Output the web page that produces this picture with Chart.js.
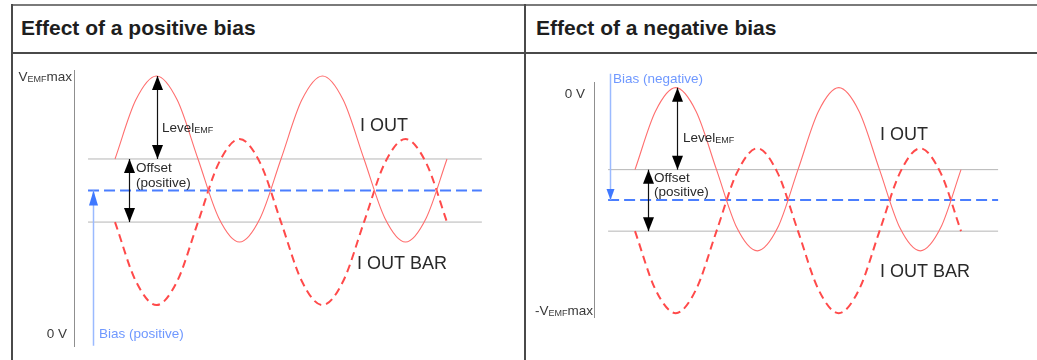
<!DOCTYPE html>
<html>
<head>
<meta charset="utf-8">
<script src="https://cdn.jsdelivr.net/npm/chart.js@4.4.1/dist/chart.umd.min.js"></script>
<style>
  html, body { margin: 0; padding: 0; background: #fff; }
  body { width: 1037px; height: 360px; position: relative; overflow: hidden; font-family: "Liberation Sans", Arial, sans-serif; }
  .rule { position: absolute; background: #4a4a4a; }
  .head { position: absolute; top: 16px; font-weight: bold; font-size: 21px; line-height: 24px; color: #1e1e1e; white-space: nowrap; }
  .cell { position: absolute; top: 55px; height: 305px; width: 511px; }
</style>
</head>
<body>
<div class="rule" style="left:11px;top:4px;width:1026px;height:2px;background:#7a7a7a"></div>
<div class="rule" style="left:11px;top:4px;width:2px;height:356px"></div>
<div class="rule" style="left:11px;top:52px;width:1026px;height:2px"></div>
<div class="rule" style="left:524px;top:4px;width:2px;height:356px"></div>
<div class="head" style="left:21px">Effect of a positive bias</div>
<div class="head" style="left:536px">Effect of a negative bias</div>
<div class="cell" style="left:13px"><canvas id="positive"></canvas></div>
<div class="cell" style="left:526px"><canvas id="negative"></canvas></div>

<script>
// time, in quarter periods of the EMF signal
const timeSteps = [0, 0.5, 1, 1.5, 2, 2.5, 3, 3.5, 4, 4.5, 5, 5.5, 6, 6.5, 7, 7.5, 8];

// signal levels, in Level_EMF units above the bias line
const iOutPositive = [0.38, 1.09, 1.38, 1.09, 0.38, -0.33, -0.62, -0.33, 0.38, 1.09, 1.38, 1.09, 0.38, -0.33, -0.62, -0.33, 0.38];
const iOutBarPositive = [-0.38, -1.09, -1.38, -1.09, -0.38, 0.33, 0.62, 0.33, -0.38, -1.09, -1.38, -1.09, -0.38, 0.33, 0.62, 0.33, -0.38];
const iOutNegative = [0.37, 1.08, 1.37, 1.08, 0.37, -0.34, -0.62, -0.34, 0.37, 1.08, 1.37, 1.08, 0.37, -0.34, -0.62, -0.34, 0.37];
const iOutBarNegative = [-0.38, -1.09, -1.38, -1.09, -0.38, 0.33, 0.63, 0.33, -0.38, -1.09, -1.38, -1.09, -0.38, 0.33, 0.63, 0.33, -0.38];

// offset lines (upper, lower), Level_EMF arrow (peak, offset) and bias arrow (start, bias line)
const offsetPositive = [0.38, -0.38];
const offsetNegative = [0.37, -0.38];
const levelPositive = [1.38, 0.38];
const levelNegative = [1.37, 0.37];
const biasPositive = [-1.87, 0];
const biasNegative = [1.54, 0];

// axis marks
const axisLabelsPositive = ['V_{EMF}max', '0 V'];
const axisValuesPositive = [1.38, -1.72];
const axisLabelsNegative = ['0 V', '-V_{EMF}max'];
const axisValuesNegative = [1.30, -1.34];

const traceLabels = ['I OUT', 'I OUT BAR'];
const biasLabels = ['Bias (positive)', 'Bias (negative)'];
const levelLabel = 'Level_{EMF}';
const offsetLabel = ['Offset', '(positive)'];

const FONT = '"Liberation Sans", Arial, sans-serif';
const ink = '#2a2a2a';
const blue = '#4a7eff';

function richText(ctx, text, px, py, align, size, color) {
  const parts = text.split(/_\{([^}]*)\}/);
  const mainFont = size + 'px ' + FONT;
  const subFont = Math.round(size * 0.66) + 'px ' + FONT;
  let w = 0;
  parts.forEach((p, i) => { ctx.font = i % 2 ? subFont : mainFont; w += ctx.measureText(p).width; });
  let cx = align === 'right' ? px - w : px;
  const base = py + size * 0.36;
  ctx.fillStyle = color;
  ctx.textAlign = 'left';
  ctx.textBaseline = 'alphabetic';
  parts.forEach((p, i) => {
    ctx.font = i % 2 ? subFont : mainFont;
    ctx.fillText(p, cx, i % 2 ? base + 1.5 : base);
    cx += ctx.measureText(p).width;
  });
}

function arrow(ctx, px, y1, y2, a) {
  const x = Math.round(px) + 0.5;
  ctx.strokeStyle = a.line;
  ctx.lineWidth = a.width;
  ctx.beginPath();
  ctx.moveTo(x, y1);
  ctx.lineTo(x, y2);
  ctx.stroke();
  const head = (tip, dir) => {
    ctx.fillStyle = a.head;
    ctx.beginPath();
    ctx.moveTo(x, tip);
    ctx.lineTo(x - a.headW / 2, tip - dir * a.headLen);
    ctx.lineTo(x + a.headW / 2, tip - dir * a.headLen);
    ctx.closePath();
    ctx.fill();
  };
  head(y2, Math.sign(y2 - y1));
  if (a.both) head(y1, Math.sign(y1 - y2));
}

// arrows and texts, placed through the chart scales
const diagramPlugin = {
  id: 'diagram',
  afterDatasetsDraw(chart, args, opts) {
    const { ctx, scales: { x, y } } = chart;
    ctx.save();
    opts.arrows.forEach(a => {
      arrow(ctx, x.getPixelForValue(a.at), y.getPixelForValue(a.range[0]), y.getPixelForValue(a.range[1]), a);
    });
    opts.labels.forEach(l => {
      richText(ctx, l.text, x.getPixelForValue(l.x), y.getPixelForValue(l.y), l.align || 'left', l.size, l.color);
    });
    ctx.restore();
  }
};

function makePanel(id, p) {
  const points = vals => timeSteps.map((t, i) => ({ x: t, y: vals[i] }));
  const flat = v => [{ x: p.lineFrom, y: v }, { x: p.lineTo, y: v }];
  const base = { pointRadius: 0, fill: false };

  const labels = [];
  p.axisLabels.forEach((text, i) => labels.push({ text, x: p.axisX[i], y: p.axisValues[i], align: 'right', size: 13.5, color: '#3a3a3a' }));
  labels.push({ text: p.biasLabel, x: p.biasLabelAt[0], y: p.biasLabelAt[1], size: 13.5, color: '#6f98ff' });
  labels.push({ text: levelLabel, x: p.levelLabelAt[0], y: p.levelLabelAt[1], size: 13.5, color: ink });
  labels.push({ text: offsetLabel[0], x: p.offsetLabelAt[0], y: p.offsetLabelAt[1], size: 13.5, color: ink });
  labels.push({ text: offsetLabel[1], x: p.offsetLabelAt[0], y: p.offsetLabelAt[2], size: 13.5, color: ink });
  labels.push({ text: traceLabels[0], x: p.iOutAt[0], y: p.iOutAt[1], size: 18, color: ink });
  labels.push({ text: traceLabels[1], x: p.iOutBarAt[0], y: p.iOutBarAt[1], size: 18, color: ink });

  const blackArrow = { line: '#111', head: '#000', width: 1.2, headLen: 14, headW: 11, both: true };

  new Chart(document.getElementById(id), {
    type: 'line',
    data: {
      datasets: [
        { ...base, data: points(p.iOut), borderColor: '#ff6e6e', borderWidth: 1.1, cubicInterpolationMode: 'monotone' },
        { ...base, data: points(p.iOutBar), borderColor: '#ff4a4a', borderWidth: 2, borderDash: [8, 5], cubicInterpolationMode: 'monotone' },
        { ...base, data: flat(0), borderColor: blue, borderWidth: 2, borderDash: [11, 5] },
        { ...base, data: flat(p.offset[0]), borderColor: '#b5b5b5', borderWidth: 1 },
        { ...base, data: flat(p.offset[1]), borderColor: '#b5b5b5', borderWidth: 1 }
      ]
    },
    options: {
      responsive: true,
      maintainAspectRatio: false,
      animation: false,
      devicePixelRatio: 1,
      layout: { padding: p.padding },
      plugins: {
        legend: { display: false },
        tooltip: { enabled: false },
        diagram: {
          arrows: [
            { ...blackArrow, at: p.levelAt, range: p.level },
            { ...blackArrow, at: p.offsetAt, range: p.offset },
            { line: '#9bbaff', head: '#3f78ff', width: 1.5, headLen: p.biasHead[0], headW: p.biasHead[1], both: false, at: p.biasAt, range: p.bias }
          ],
          labels
        }
      },
      scales: {
        x: { type: 'linear', display: false, min: p.x[0], max: p.x[1] },
        y: {
          type: 'linear', min: p.y[0], max: p.y[1],
          grid: { display: false },
          ticks: { display: false },
          border: { color: '#8f8f8f', width: 1 },
          afterFit: s => { s.width = 0; }
        }
      }
    },
    plugins: [diagramPlugin]
  });
}

makePanel('positive', {
  padding: { left: 61, top: 15, bottom: 14, right: 24 },
  x: [-0.988, 9.277], y: [-1.873, 1.452],
  lineFrom: -0.65, lineTo: 8.84,
  iOut: iOutPositive, iOutBar: iOutBarPositive,
  offset: offsetPositive, level: levelPositive, bias: biasPositive,
  levelAt: 1.0, offsetAt: 0.34, biasAt: -0.53, biasHead: [15, 9],
  axisLabels: axisLabelsPositive, axisValues: axisValuesPositive, axisX: [-1.036, -1.157],
  biasLabel: biasLabels[0], biasLabelAt: [-0.386, -1.72],
  levelLabelAt: [1.133, 0.765],
  offsetLabelAt: [0.506, 0.28, 0.106],
  iOutAt: [5.904, 0.80], iOutBarAt: [5.831, -0.873]
});

makePanel('negative', {
  padding: { left: 68, top: 27, bottom: 43, right: 27 },
  x: [-1.006, 9.202], y: [-1.427, 1.439],
  lineFrom: -0.66, lineTo: 8.91,
  iOut: iOutNegative, iOutBar: iOutBarNegative,
  offset: offsetNegative, level: levelNegative, bias: biasNegative,
  levelAt: 1.03, offsetAt: 0.32, biasAt: -0.61, biasHead: [11, 8],
  axisLabels: axisLabelsNegative, axisValues: axisValuesNegative, axisX: [-1.227, -1.031],
  biasLabel: biasLabels[1], biasLabelAt: [-0.54, 1.488],
  levelLabelAt: [1.178, 0.768],
  offsetLabelAt: [0.466, 0.277, 0.11],
  iOutAt: [6.01, 0.805], iOutBarAt: [6.01, -0.866]
});
</script>
</body>
</html>
